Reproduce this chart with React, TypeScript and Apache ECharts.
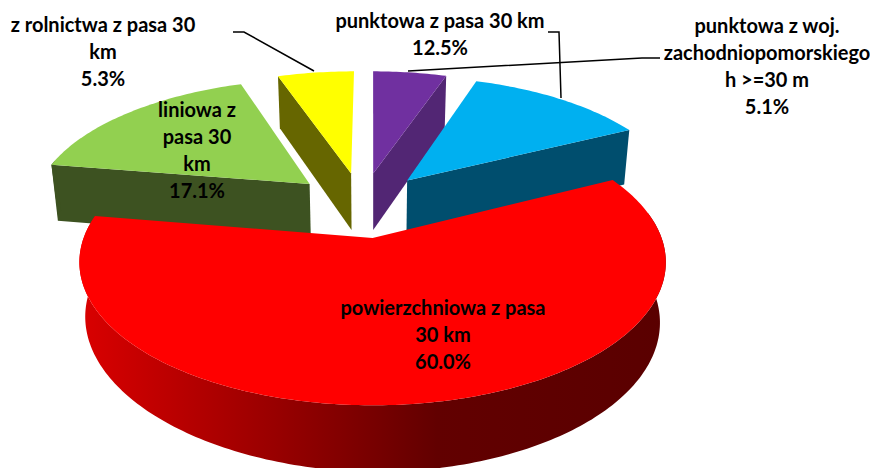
import React, { useEffect, useRef } from "react";
import * as echarts from "echarts";

const categories = [
  "punktowa z woj.\nzachodniopomorskiego\nh >=30 m",
  "punktowa z pasa 30 km",
  "powierzchniowa z pasa\n30 km",
  "liniowa z\npasa 30\nkm",
  "z rolnictwa z pasa 30\nkm",
];
const values = [5.1, 12.5, 60.0, 17.1, 5.3];
const topColors = ["#7030A0", "#00B0F0", "#FF0000", "#92D050", "#FFFF00"];
const wallColors = ["#522674", "#004E6E", "#5C0000", "#3D5221", "#666600"];

// Perspective of the pie, fitted to the picture
const ORIGIN_X = 372.5;
const ORIGIN_Y = 238;
const SCALE_U = 289;
const SCALE_V = 139;
const PERSPECTIVE = 0.169;
const CENTER_U = -0.038;
const CENTER_V = 0.252;
const EXPLODE = 0.255;

type Pt = number[];
const project = (u: number, v: number): Pt => {
  const w = 1 + PERSPECTIVE * v;
  return [ORIGIN_X + (SCALE_U * u) / w, ORIGIN_Y - (SCALE_V * v) / w];
};
const drop = (p: Pt): Pt => [
  ORIGIN_X + (p[0] - ORIGIN_X) * 0.98,
  p[1] + 52 + (p[1] - 75) * 0.045,
];
// The lower rim of the big slice sits a little higher on its left side
const dropRim = (p: Pt): Pt => {
  const q = drop(p);
  return [q[0], q[1] - Math.max(0, ORIGIN_X - p[0]) * 0.02];
};
const rad = (d: number) => (d * Math.PI) / 180;

const total = values.reduce((a, b) => a + b, 0);
const starts: number[] = [];
values.reduce((acc, v, i) => {
  starts[i] = acc;
  return acc + (v / total) * 360;
}, 0);

// Painter's order: the farthest slice first
const drawOrder = values
  .map((v, i) => {
    const mid = starts[i] + (v / total) * 180;
    return { i, far: Math.cos(rad(mid)) };
  })
  .sort((a, b) => b.far - a.far)
  .map((d) => d.i);

const redWall = new echarts.graphic.LinearGradient(0, 0, 1, 0, [
  { offset: 0, color: "#DA0000" },
  { offset: 0.61, color: "#620000" },
  { offset: 1, color: "#5A0000" },
]);

function renderSlice(_: any, api: any) {
  const idx = api.value(1);
  const value = api.value(0);
  const a0 = starts[idx];
  const a1 = a0 + (value / total) * 360;
  const mid = rad((a0 + a1) / 2);
  const cu = CENTER_U + EXPLODE * Math.sin(mid);
  const cv = CENTER_V + EXPLODE * Math.cos(mid);
  const apex = project(cu, cv);
  const arc: { p: Pt; a: number }[] = [];
  const steps = Math.max(8, Math.ceil(a1 - a0));
  for (let s = 0; s <= steps; s++) {
    const a = a0 + ((a1 - a0) * s) / steps;
    arc.push({ p: project(cu + Math.sin(rad(a)), cv + Math.cos(rad(a))), a });
  }
  const children: any[] = [];
  const wallFill = wallColors[idx];
  const poly = (points: Pt[], fill: any) => ({
    type: "polygon",
    shape: { points },
    style: { fill, stroke: "none" },
  });
  const first = arc[0];
  const last = arc[arc.length - 1];
  if (Math.sin(rad(a0)) < -0.01) {
    children.push(poly([apex, first.p, drop(first.p), drop(apex)], wallFill));
  }
  if (Math.sin(rad(a1)) > 0.01) {
    children.push(poly([apex, last.p, drop(last.p), drop(apex)], wallFill));
  }
  const front = arc.filter((q) => Math.cos(rad(q.a)) < 0.2).map((q) => q.p);
  if (front.length > 1) {
    children.push(
      poly([...front, ...front.slice().reverse().map(dropRim)], idx === 2 ? redWall : wallFill)
    );
  }
  children.push(poly([apex, ...arc.map((q) => q.p)], topColors[idx]));
  return { type: "group", children };
}

const labelAnchors: Pt[] = [
  [767, 65],
  [440, 33],
  [443, 334],
  [197, 149],
  [103, 51],
];
const leaders: Pt[][] = [
  [[660, 58], [642, 58], [408, 71]],
  [[548, 32], [559, 32], [561, 98]],
  [[233, 32], [244, 32], [314, 71]],
];

export default function App() {
  const ref = useRef<HTMLDivElement>(null);
  useEffect(() => {
    const chart = echarts.init(ref.current!, null, { renderer: "svg" });
    chart.setOption({
      animation: false,
      backgroundColor: "#FFFFFF",
      series: [
        {
          type: "custom",
          coordinateSystem: "none",
          silent: true,
          clip: false,
          renderItem: renderSlice,
          data: drawOrder.map((i) => [values[i], i]),
        },
      ],
      graphic: [
        ...leaders.map((points) => ({
          type: "polyline",
          z: 50,
          shape: { points },
          style: { stroke: "#000000", lineWidth: 1.5, fill: "none" },
        })),
        ...categories.map((name, i) => ({
          type: "text",
          z: 60,
          x: labelAnchors[i][0],
          y: labelAnchors[i][1],
          style: {
            text: `${name}\n${values[i].toFixed(1)}%`,
            fontFamily: "Lato",
            fontWeight: "bold",
            fontSize: 20,
            lineHeight: 27,
            align: "center",
            verticalAlign: "middle",
            fill: "#000000",
          },
        })),
      ],
    });
    return () => chart.dispose();
  }, []);
  return (
    <div
      ref={ref}
      style={{ position: "absolute", left: 0, top: 0, width: 870, height: 468 }}
    />
  );
}
